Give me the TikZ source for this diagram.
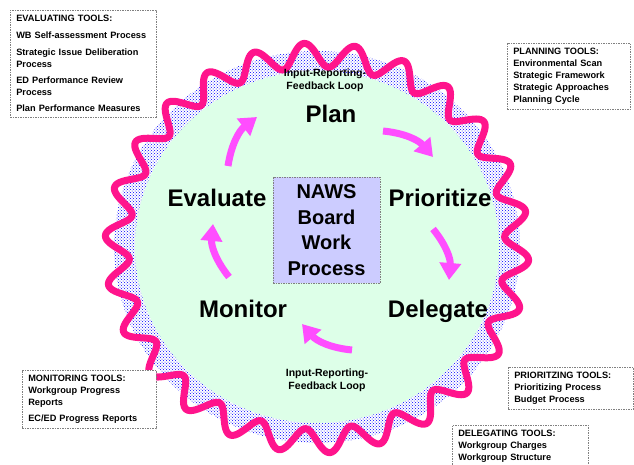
\documentclass[tikz,border=0pt]{standalone}
\usepackage{fontspec}
\setmainfont{Liberation Sans}
\usetikzlibrary{arrows.meta}
\usetikzlibrary{patterns}
\definecolor{loopgreen}{RGB}{221,255,232}
\definecolor{wavepink}{RGB}{255,20,140}
\definecolor{arrowpink}{RGB}{255,77,255}
\definecolor{boxlilac}{RGB}{204,204,255}

\begin{document}
\begin{tikzpicture}[x=1pt,y=-1pt,
  stage/.style={font=\fontsize{24}{28}\selectfont\bfseries, anchor=base},
  loopnote/.style={font=\fontsize{10.5}{13}\selectfont\bfseries, align=center},
  toolbox/.style={draw=gray, dash pattern=on 1.5pt off 1pt, line width=.6pt, fill=white,
    anchor=north west, inner xsep=6pt, inner ysep=5pt, align=left,
    font=\fontsize{9.2}{12}\selectfont\bfseries},
  swoosh/.style={draw=arrowpink, line width=7pt, -{Triangle[length=17pt,width=21pt]}}]
\useasboundingbox (0,0) rectangle (634,464);
\fill[pattern=crosshatch dots, pattern color=blue] (317,247) ellipse [x radius=203pt, y radius=196pt];
\fill[loopgreen] (317,247) ellipse [x radius=182pt, y radius=176pt];
\draw[wavepink, line width=7pt, line join=round]
  plot[domain=0:360, samples=721] ({317+(200+12*sin(26*\x))*cos(\x)},{248+(193+12*sin(26*\x))*sin(\x)}) -- cycle;

\node[loopnote] (looptop) at (325,80) {Input-Reporting-\\Feedback Loop};
\node[loopnote] (loopbot) at (327,380) {Input-Reporting-\\Feedback Loop};

\node[draw=gray, dash pattern=on 1.5pt off 1pt, line width=.6pt, fill=boxlilac,
  minimum width=107pt, minimum height=106pt, align=center,
  font=\fontsize{20}{25.5}\selectfont\bfseries] (naws) at (326.5,230) {NAWS\\Board\\Work\\Process};

\node[stage] (plan) at (331,122) {Plan};
\node[stage] (prior) at (440,206) {Prioritize};
\node[stage] (deleg) at (438,317) {Delegate};
\node[stage] (monitor) at (243,317) {Monitor};
\node[stage] (evaluate) at (217,206) {Evaluate};

\coordinate (s1) at (383,131); \coordinate (e1) at (433,157);
\coordinate (s2) at (433,229); \coordinate (e2) at (449,280);
\coordinate (s3) at (352,350); \coordinate (e3) at (302,324);
\coordinate (s4) at (229,277); \coordinate (e4) at (213,224);
\coordinate (s5) at (228,166); \coordinate (e5) at (257,117);
\foreach \i in {1,...,5} {
  \draw[swoosh] (s\i) to[bend left=22] (e\i);
}

\node[toolbox, text width=134pt] (evaltools) at (10,10) {EVALUATING TOOLS:\\[5pt]
  WB Self-assessment Process\\[5pt]
  Strategic Issue Deliberation\\Process\\[4pt]
  ED Performance Review\\Process\\[4pt]
  Plan Performance Measures};
\node[toolbox, text width=111pt] (plantools) at (507,43) {PLANNING TOOLS:\\
  Environmental Scan\\Strategic Framework\\Strategic Approaches\\Planning Cycle};
\node[toolbox, text width=122pt] (montools) at (22,370) {MONITORING TOOLS:\\
  Workgroup Progress\\Reports\\[4pt]EC/ED Progress Reports};
\node[toolbox, text width=113pt] (priotools) at (508,367) {PRIORITZING TOOLS:\\
  Prioritizing Process\\Budget Process};
\node[toolbox, text width=124pt] (delgtools) at (452,425) {DELEGATING TOOLS:\\
  Workgroup Charges\\Workgroup Structure};
\end{tikzpicture}
\end{document}
